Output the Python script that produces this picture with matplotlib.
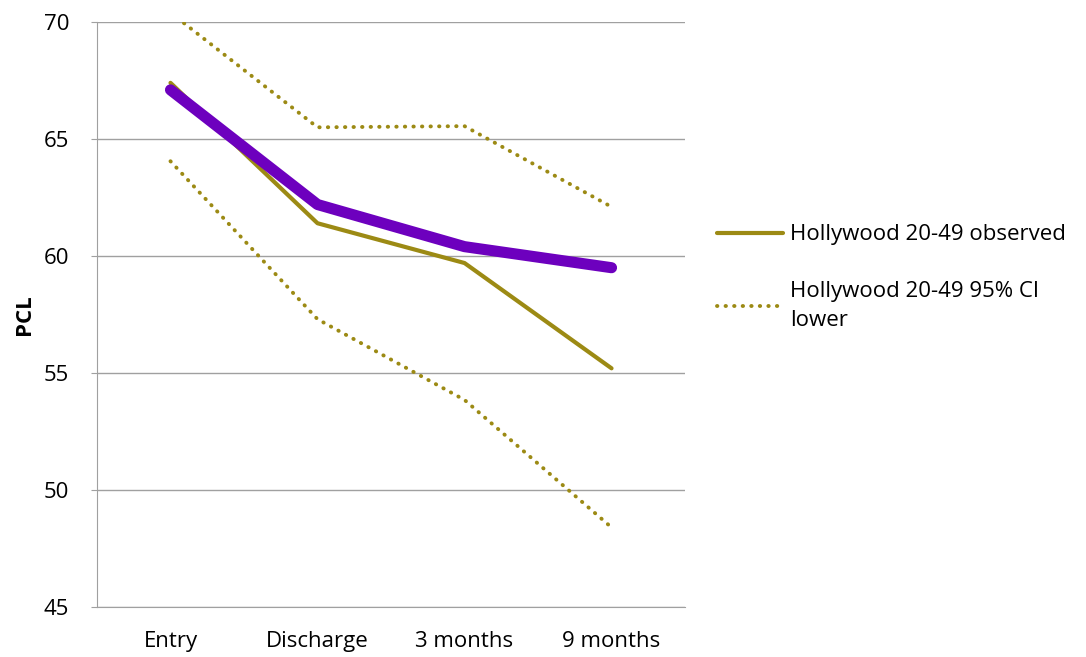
import matplotlib
matplotlib.use("Agg")
import matplotlib.pyplot as plt

# data
timepoints = ["Entry", "Discharge", "3 months", "9 months"]
predicted = [67.1, 62.2, 60.4, 59.5]
observed = [67.4, 61.4, 59.7, 55.2]
ci_upper = [70.4, 65.5, 65.55, 62.1]
ci_lower = [64.05, 57.3, 53.85, 48.4]

olive = "#9c8a14"
purple = "#6d00be"

plt.rcParams["font.family"] = ["Open Sans", "DejaVu Sans"]
fs = 16

fig = plt.figure(figsize=(10.86, 6.57), dpi=100)
ax = fig.add_axes([0.0893, 0.0761, 0.5415, 0.8904])

x = range(len(timepoints))
dots = (0, (0.1, 2.1))
ax.plot(x, ci_upper, color=olive, lw=2.8, ls=dots, dash_capstyle="round")
ax.plot(x, ci_lower, color=olive, lw=2.8, ls=dots, dash_capstyle="round",
        label="Hollywood 20-49 95% CI\nlower")
ax.plot(x, observed, color=olive, lw=3, solid_capstyle="round",
        label="Hollywood 20-49 observed")
ax.plot(x, predicted, color=purple, lw=8, solid_capstyle="round")

ax.set_xlim(-0.5, len(timepoints) - 0.5)
ax.set_ylim(45, 70)
ax.set_yticks([45, 50, 55, 60, 65, 70])
ax.set_xticks(list(x))
ax.set_xticklabels(timepoints)
ax.yaxis.grid(True, color="#a0a0a0", lw=1)
ax.set_axisbelow(True)
for s in ["top", "right"]:
    ax.spines[s].set_visible(False)
for s in ["left", "bottom"]:
    ax.spines[s].set_color("#a0a0a0")
ax.tick_params(axis="y", length=4, color="#a0a0a0", labelsize=fs, pad=16)
ax.tick_params(axis="x", length=0, labelsize=fs, pad=17)
ax.set_ylabel("PCL", fontsize=fs, fontweight="bold", labelpad=6)

handles, labels = ax.get_legend_handles_labels()
leg = fig.legend([handles[1], handles[0]], [labels[1], labels[0]],
                 loc="upper left", bbox_to_anchor=(0.6415, 0.689), frameon=False,
                 fontsize=fs, handlelength=3.0, handletextpad=0.3,
                 labelspacing=1.6)
for t in leg.get_texts():
    t.set_linespacing(1.5)

fig.savefig("out.png", dpi=100)
